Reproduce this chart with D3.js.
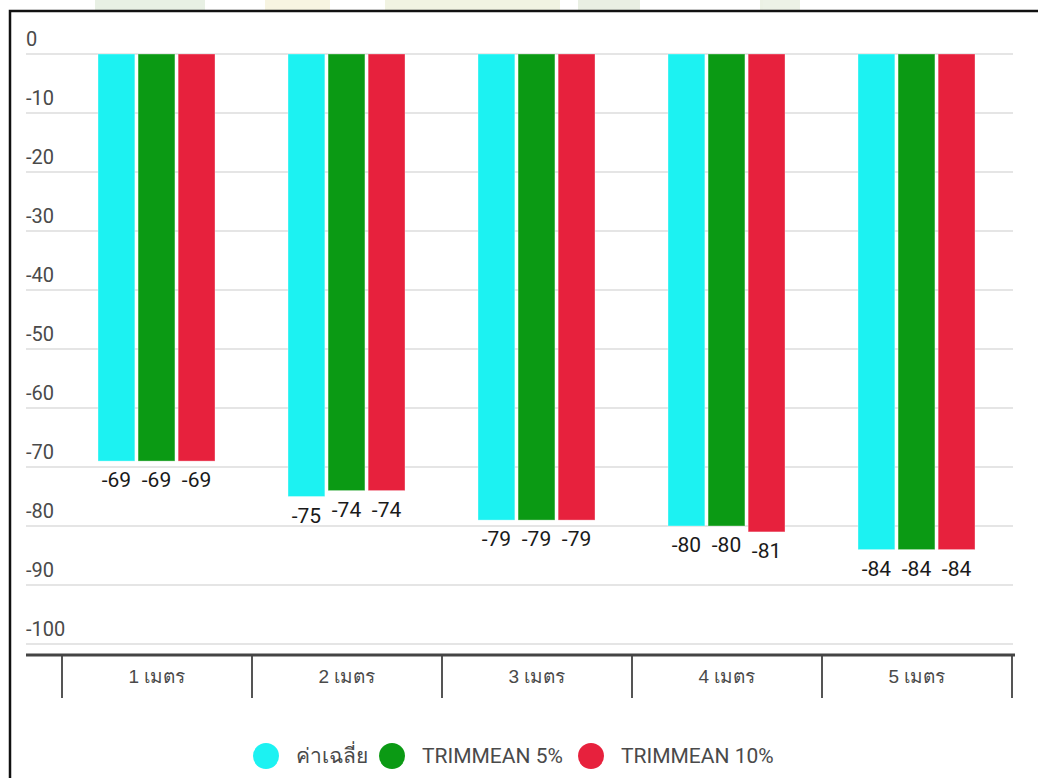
<!DOCTYPE html>
<html>
<head>
<meta charset="utf-8">
<script src="https://cdn.jsdelivr.net/npm/d3@7"></script>
<style>
  html, body { margin: 0; padding: 0; background: #fff; }
  svg { display: block; font-family: Roboto, "Noto Sans", "DejaVu Sans", sans-serif; }
</style>
</head>
<body>
<svg id="chart" width="1038" height="778"></svg>
<script>
// Signal strength by distance, three averaging methods
const categories = ["1 เมตร", "2 เมตร", "3 เมตร", "4 เมตร", "5 เมตร"];
const seriesNames = ["ค่าเฉลี่ย", "TRIMMEAN 5%", "TRIMMEAN 10%"];
const meanValues = [-69, -75, -79, -80, -84];
const trim5Values = [-69, -74, -79, -80, -84];
const trim10Values = [-69, -74, -79, -81, -84];
const yTicks = [0, -10, -20, -30, -40, -50, -60, -70, -80, -90, -100];
const colors = ["#1cf2f2", "#0b9a14", "#e7213d"];

const seriesValues = [meanValues, trim5Values, trim10Values];

const svg = d3.select("#chart");

// faint banner strip peeking above the frame
const banner = svg.append("g").attr("opacity", 0.13);
[[95, 205, "#4c8a2c"], [265, 330, "#c9b020"], [385, 560, "#9aa62a"], [578, 640, "#5c8c33"], [760, 800, "#6f9a3a"]]
  .forEach(([a, b, c]) => banner.append("rect").attr("x", a).attr("y", 0).attr("width", b - a).attr("height", 10).attr("fill", c));

// frame
svg.append("path")
  .attr("d", "M10,778 L10,11 L1038,11")
  .attr("fill", "none").attr("stroke", "#111").attr("stroke-width", 2.5);

const plotLeft = 26, plotRight = 1013;
const y = d3.scaleLinear().domain([-100, 0]).range([644, 54]);
const x0 = d3.scaleBand().domain(categories).range([62, 1012]).paddingInner(0).paddingOuter(0);
const groupPad = 36;
const x1 = d3.scaleBand().domain(seriesNames)
  .range([groupPad, x0.bandwidth() - groupPad - 1]).paddingInner(0.08).paddingOuter(0);

// gridlines and y labels
const yAxis = svg.append("g");
yAxis.selectAll("line").data(yTicks).join("line")
  .attr("x1", plotLeft).attr("x2", plotRight)
  .attr("y1", d => y(d)).attr("y2", d => y(d))
  .attr("stroke", "#dcdcdc").attr("stroke-width", 1.5);
yAxis.selectAll("text").data(yTicks).join("text")
  .attr("x", plotLeft).attr("y", d => y(d) - 8)
  .attr("font-size", 20).attr("fill", "#4a4a4a")
  .text(d => d3.format("d")(d).replace("−", "-"));

// bars
const groups = svg.append("g").selectAll("g").data(categories).join("g")
  .attr("transform", d => `translate(${x0(d)},0)`);

groups.selectAll("rect")
  .data((d, i) => seriesNames.map((s, j) => ({ s, j, v: seriesValues[j][i] })))
  .join("rect")
  .attr("x", d => x1(d.s))
  .attr("width", x1.bandwidth())
  .attr("y", y(0))
  .attr("height", d => y(d.v) - y(0))
  .attr("fill", d => colors[d.j])
  .attr("stroke", "rgba(255,255,255,0.35)").attr("stroke-width", 1);

groups.selectAll("text.val")
  .data((d, i) => seriesNames.map((s, j) => ({ s, j, v: seriesValues[j][i] })))
  .join("text").attr("class", "val")
  .attr("x", d => x1(d.s) + x1.bandwidth() / 2)
  .attr("y", d => y(d.v) + 26)
  .attr("text-anchor", "middle")
  .attr("font-size", 21).attr("fill", "#1a1a1a")
  .text(d => String(d.v));

// x axis: baseline, band dividers, category labels
const xAxisG = svg.append("g").attr("transform", "translate(0,655)");
const xAxis = d3.axisBottom(x0).tickSize(0).tickPadding(0);
xAxisG.call(xAxis);
xAxisG.select(".domain").remove();
xAxisG.selectAll(".tick text")
  .attr("y", 28).attr("dy", 0)
  .attr("font-size", 19).attr("font-family", null).attr("fill", "#4a4a4a");

const dividers = categories.map(c => x0(c)).concat([x0.range()[1]]);
xAxisG.selectAll("line.div").data(dividers).join("line").attr("class", "div")
  .attr("x1", d => d).attr("x2", d => d).attr("y1", 0).attr("y2", 43)
  .attr("stroke", "#555").attr("stroke-width", 2);
xAxisG.append("line")
  .attr("x1", plotLeft).attr("x2", plotRight + 2).attr("y1", 0).attr("y2", 0)
  .attr("stroke", "#444").attr("stroke-width", 3);

// legend
const legendX = [266, 392, 591];
const legend = svg.append("g").selectAll("g").data(seriesNames).join("g")
  .attr("transform", (d, i) => `translate(${legendX[i]},756)`);
legend.append("circle").attr("r", 13).attr("fill", (d, i) => colors[i]);
legend.append("text").attr("x", 30).attr("y", 7)
  .attr("font-size", 21).attr("fill", "#4a4a4a").text(d => d);
</script>
</body>
</html>
